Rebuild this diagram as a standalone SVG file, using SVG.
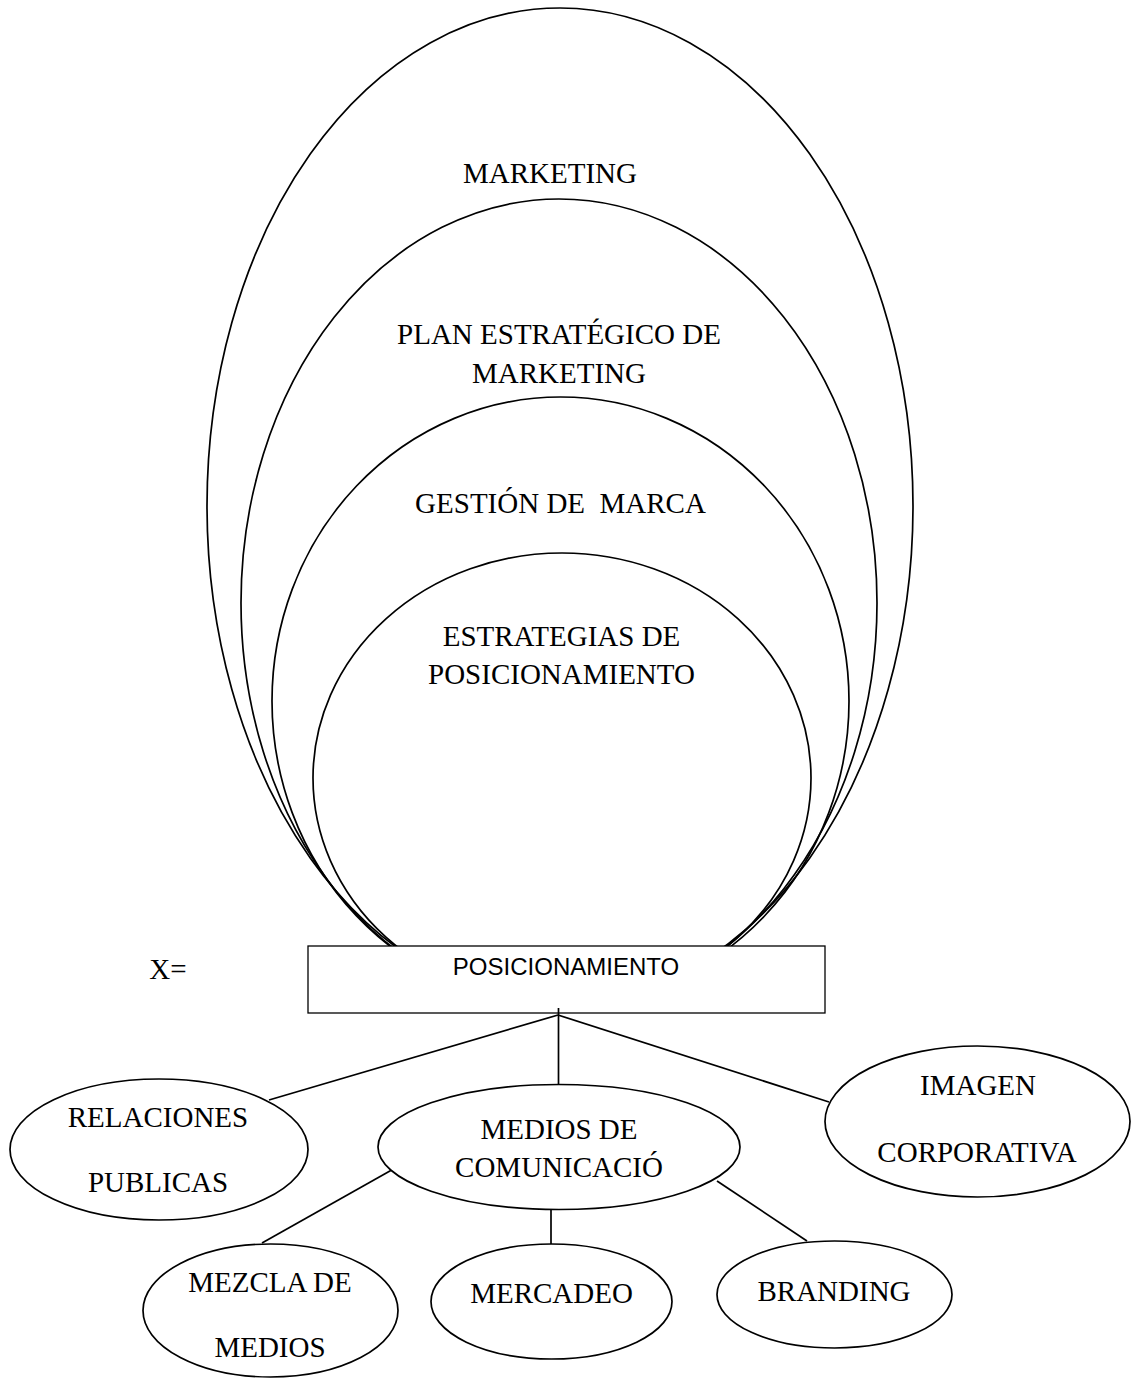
<svg xmlns="http://www.w3.org/2000/svg" width="1133" height="1378" viewBox="0 0 1133 1378">
<style>
.shape{fill:none;stroke:#000;stroke-width:1.7}
.node{fill:#fff;stroke:#000;stroke-width:1.7}
.box{fill:#fff;stroke:#000;stroke-width:1.3}
.conn{stroke:#000;stroke-width:1.7;fill:none}
.t{font-family:"Liberation Serif","Times New Roman",serif;font-size:29px;fill:#000;text-anchor:middle}
.s{font-family:"Liberation Sans",Arial,sans-serif;font-size:24px;fill:#000;text-anchor:middle}
</style>
<rect width="1133" height="1378" fill="#fff"/>
<g id="marketing">
<ellipse class="shape" cx="560" cy="506" rx="353" ry="498"/>
<text class="t" x="550" y="183">MARKETING</text>
</g>
<g id="plan-estrategico">
<ellipse class="shape" cx="559" cy="603" rx="318" ry="404"/>
<text class="t" x="559" y="344">PLAN ESTRATÉGICO DE</text>
<text class="t" x="559" y="383">MARKETING</text>
</g>
<g id="gestion-marca">
<ellipse class="shape" cx="560.5" cy="701" rx="288.5" ry="304"/>
<text class="t" x="560.5" y="513" xml:space="preserve">GESTIÓN DE  MARCA</text>
</g>
<g id="estrategias">
<ellipse class="shape" cx="562" cy="778" rx="249" ry="225"/>
<text class="t" x="561.5" y="646">ESTRATEGIAS DE</text>
<text class="t" x="561.5" y="684">POSICIONAMIENTO</text>
</g>
<g id="posicionamiento">
<rect class="box" x="308" y="946" width="517" height="67"/>
<text class="s" x="566" y="975">POSICIONAMIENTO</text>
</g>
<g id="x-label">
<text class="t" x="168" y="979">X=</text>
</g>
<g id="connectors">
<line class="conn" x1="558.5" y1="1008" x2="558.5" y2="1084"/>
<line class="conn" x1="558" y1="1015" x2="269" y2="1100"/>
<line class="conn" x1="558" y1="1015" x2="829" y2="1102"/>
<line class="conn" x1="397" y1="1167" x2="262" y2="1243"/>
<line class="conn" x1="551" y1="1209" x2="551" y2="1244"/>
<line class="conn" x1="717" y1="1181" x2="807" y2="1241"/>
</g>
<g id="relaciones">
<ellipse class="node" cx="159" cy="1149.5" rx="149" ry="70.5"/>
<text class="t" x="158" y="1127">RELACIONES</text>
<text class="t" x="158" y="1192">PUBLICAS</text>
</g>
<g id="medios">
<ellipse class="node" cx="559" cy="1147" rx="181" ry="62.5"/>
<text class="t" x="559" y="1139">MEDIOS DE</text>
<text class="t" x="559" y="1177">COMUNICACIÓ</text>
</g>
<g id="imagen">
<ellipse class="node" cx="977.5" cy="1121.5" rx="152.5" ry="75.5"/>
<text class="t" x="978" y="1095">IMAGEN</text>
<text class="t" x="977" y="1162">CORPORATIVA</text>
</g>
<g id="mezcla">
<ellipse class="node" cx="270.5" cy="1310.5" rx="127.5" ry="66.5"/>
<text class="t" x="270" y="1292">MEZCLA DE</text>
<text class="t" x="270" y="1357">MEDIOS</text>
</g>
<g id="mercadeo">
<ellipse class="node" cx="551.5" cy="1301.5" rx="120.5" ry="57.5"/>
<text class="t" x="551.5" y="1303">MERCADEO</text>
</g>
<g id="branding">
<ellipse class="node" cx="834.5" cy="1294.5" rx="117.5" ry="53.5"/>
<text class="t" x="834" y="1301">BRANDING</text>
</g>
</svg>
